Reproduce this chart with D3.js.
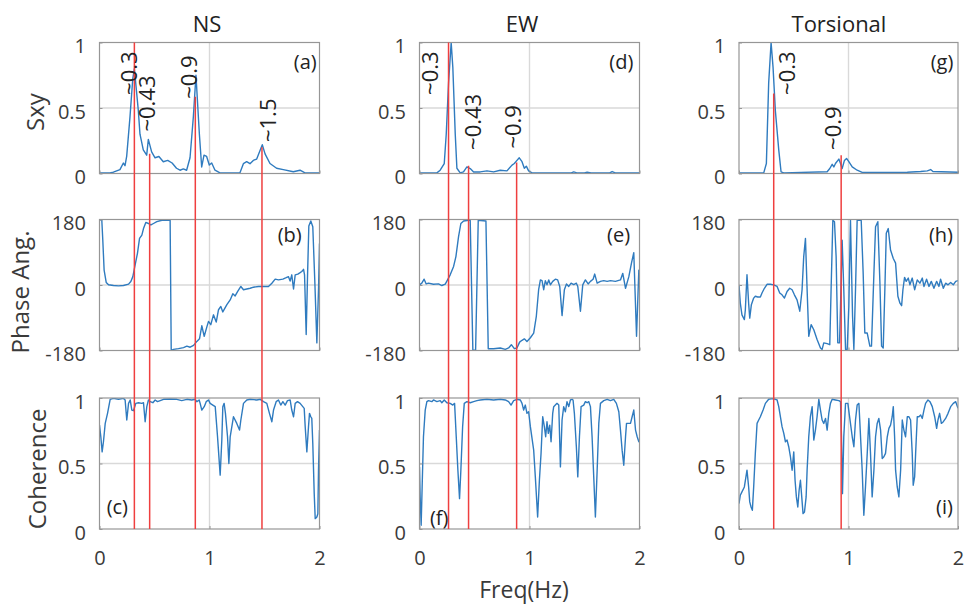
<!DOCTYPE html>
<html>
<head>
<meta charset="utf-8">
<script src="https://d3js.org/d3.v7.min.js"></script>
<style>
  body { margin: 0; background: #fff; }
  svg text { font-family: "Open Sans", "Noto Sans", sans-serif; }
</style>
</head>
<body>
<svg id="chart" width="964" height="608"></svg>
<script>
// ---- data: [freq (Hz), value] ----
const nsSxy = [[0,0.005],[0.095,0.005],[0.126,0.01],[0.186,0.03],[0.217,0.08],[0.232,0.06],[0.247,0.13],[0.277,0.43],[0.302,0.72],[0.317,0.8],[0.353,0.48],[0.368,0.3],[0.398,0.18],[0.429,0.14],[0.444,0.26],[0.474,0.165],[0.505,0.12],[0.54,0.13],[0.58,0.09],[0.62,0.1],[0.66,0.08],[0.7,0.04],[0.732,0.025],[0.762,0.035],[0.792,0.025],[0.823,0.12],[0.853,0.43],[0.877,0.75],[0.908,0.3],[0.929,0.05],[0.95,0.14],[0.974,0.13],[0.998,0.065],[1.02,0.08],[1.05,0.025],[1.095,0.005],[1.277,0.005],[1.308,0.075],[1.338,0.09],[1.368,0.075],[1.398,0.1],[1.429,0.11],[1.48,0.22],[1.505,0.15],[1.55,0.076],[1.61,0.04],[1.671,0.03],[1.762,0.013],[1.823,0.025],[1.868,0.005],[2,0.005]];
const ewSxy = [[0,0.005],[0.158,0.005],[0.188,0.025],[0.225,0.076],[0.243,0.3],[0.264,0.69],[0.288,1.0],[0.303,0.81],[0.325,0.3],[0.34,0.04],[0.37,0.005],[0.4,0.012],[0.431,0.05],[0.461,0.038],[0.492,0.012],[0.552,0.012],[0.613,0.02],[0.674,0.012],[0.734,0.025],[0.795,0.02],[0.841,0.064],[0.862,0.076],[0.886,0.1],[0.907,0.12],[0.932,0.09],[0.953,0.04],[0.971,0.056],[0.992,0.02],[1.023,0.005],[1.38,0.005],[1.402,0.012],[1.43,0.005],[1.5,0.004],[1.524,0.01],[1.56,0.005],[1.73,0.005],[1.751,0.015],[1.78,0.005],[2,0.005]];
const torSxy = [[0,0.005],[0.226,0.005],[0.25,0.076],[0.271,0.69],[0.293,1.0],[0.311,0.81],[0.332,0.48],[0.363,0.18],[0.384,0.013],[0.409,0.005],[0.805,0.013],[0.829,0.038],[0.851,0.07],[0.866,0.05],[0.881,0.076],[0.912,0.11],[0.927,0.076],[0.942,0.038],[0.963,0.1],[0.982,0.115],[1.003,0.09],[1.034,0.05],[1.079,0.025],[1.125,0.008],[1.537,0.01],[1.659,0.015],[1.72,0.02],[1.75,0.03],[1.771,0.015],[2,0.01]];

const nsPhase = [[0,178],[0.006,180],[0.021,178],[0.03,123],[0.042,41],[0.061,7],[0.082,0.5],[0.127,-1.4],[0.173,-2.3],[0.218,-1.4],[0.264,2.3],[0.285,9.6],[0.303,23],[0.324,55],[0.345,87],[0.364,128],[0.385,137],[0.4,155],[0.421,172],[0.445,169],[0.467,165],[0.491,169],[0.521,174],[0.567,178],[0.633,178],[0.642,180],[0.652,-180],[0.673,-177],[0.718,-175],[0.764,-172],[0.794,-168],[0.824,-171],[0.855,-166],[0.885,-155],[0.909,-148],[0.93,-112],[0.952,-141],[0.976,-115],[0.991,-100],[1.012,-109],[1.036,-82],[1.061,-102],[1.082,-68],[1.103,-59],[1.121,-74],[1.158,-54],[1.188,-41],[1.212,-24],[1.233,-30],[1.255,-18],[1.285,-4],[1.309,-13],[1.339,-11],[1.37,-9],[1.4,-6],[1.445,-4],[1.491,-4],[1.536,-4],[1.567,5],[1.597,16],[1.627,14],[1.667,16],[1.697,20],[1.718,23],[1.733,11],[1.748,28],[1.764,-11],[1.779,28],[1.803,30],[1.824,34],[1.839,37],[1.855,43],[1.864,28],[1.879,-136],[1.891,23],[1.903,162],[1.921,176],[1.939,160],[1.958,5],[1.976,-159],[1.991,-13],[2,114]];
const ewPhase = [[0,0.5],[0.021,5],[0.042,16],[0.061,3],[0.082,5],[0.127,2],[0.173,3],[0.203,-1.4],[0.234,2.3],[0.255,14],[0.279,28],[0.31,51],[0.331,78],[0.355,133],[0.376,169],[0.401,176],[0.446,178],[0.461,178],[0.485,-179],[0.51,-179],[0.534,178],[0.604,176],[0.625,-175],[0.674,-175],[0.734,-173],[0.78,-177],[0.81,-173],[0.835,-164],[0.862,-175],[0.886,-173],[0.91,-157],[0.932,-152],[0.953,-148],[0.977,-155],[1.008,-145],[1.038,-132],[1.062,-86],[1.083,-13],[1.099,14],[1.114,12],[1.129,-13],[1.144,12],[1.159,0.5],[1.175,14],[1.19,0.5],[1.211,10],[1.235,16],[1.256,14],[1.275,-4],[1.296,-84],[1.317,-13],[1.336,3],[1.357,-4],[1.378,5],[1.402,1],[1.426,5],[1.439,-4],[1.463,-72],[1.484,0.5],[1.508,14],[1.533,3],[1.554,10],[1.578,16],[1.593,30],[1.615,5],[1.645,10],[1.675,12],[1.706,10],[1.736,12],[1.781,10],[1.827,14],[1.848,32],[1.873,-9],[1.903,23],[1.927,60],[1.948,89],[1.973,-141],[1.994,41],[2,41]];
const torPhase = [[0,0.5],[0.012,-50],[0.027,-82],[0.049,-95],[0.058,-68],[0.073,28],[0.088,-50],[0.098,-91],[0.113,-54],[0.134,-36],[0.149,-31],[0.171,-33],[0.195,-33],[0.21,-22],[0.232,-9],[0.256,2],[0.287,2],[0.317,0.5],[0.348,-4],[0.372,-22],[0.393,-27],[0.415,-36],[0.439,-18],[0.463,-9],[0.485,-13],[0.506,-27],[0.53,-41],[0.555,-72],[0.576,-13],[0.591,78],[0.607,128],[0.622,-13],[0.637,-141],[0.659,-109],[0.683,-123],[0.713,-150],[0.744,-173],[0.759,-177],[0.774,-159],[0.805,-161],[0.829,-164],[0.841,-13],[0.857,178],[0.872,174],[0.887,78],[0.902,-159],[0.918,-159],[0.927,-59],[0.942,123],[0.957,-13],[0.973,-177],[0.988,-177],[1.003,-59],[1.018,178],[1.037,-86],[1.049,-177],[1.064,-13],[1.079,178],[1.116,178],[1.134,32],[1.149,-132],[1.171,-132],[1.195,-168],[1.21,-168],[1.232,32],[1.247,160],[1.268,174],[1.287,5],[1.302,-168],[1.317,-173],[1.332,-13],[1.345,142],[1.363,155],[1.384,96],[1.409,73],[1.43,60],[1.451,-31],[1.47,-50],[1.485,-57],[1.497,-13],[1.512,21],[1.527,10],[1.546,19],[1.561,0.5],[1.582,19],[1.604,-13],[1.628,14],[1.652,5],[1.674,19],[1.689,-4],[1.713,16],[1.735,-4],[1.756,10],[1.78,-9],[1.805,10],[1.826,-4],[1.841,16],[1.866,-9],[1.887,5],[1.909,0.5],[1.933,7],[1.957,0.5],[1.979,10],[2,12]];

const nsCoh = [[0,0.793],[0.012,0.704],[0.024,0.589],[0.036,0.666],[0.052,0.806],[0.073,0.883],[0.097,0.99],[0.127,0.997],[0.173,0.99],[0.218,0.997],[0.233,0.985],[0.248,0.832],[0.264,0.959],[0.279,0.985],[0.294,0.908],[0.309,0.903],[0.33,0.959],[0.355,0.964],[0.385,0.959],[0.4,0.964],[0.415,0.819],[0.43,0.934],[0.445,0.985],[0.461,0.972],[0.485,0.964],[0.506,0.985],[0.527,0.972],[0.552,0.98],[0.582,0.99],[0.642,0.992],[0.703,0.99],[0.748,0.98],[0.794,0.99],[0.839,0.985],[0.87,0.99],[0.885,0.972],[0.906,0.985],[0.915,0.959],[0.93,0.908],[0.952,0.934],[0.97,0.972],[0.991,0.985],[1.006,0.959],[1.03,0.946],[1.052,0.934],[1.073,0.704],[1.097,0.411],[1.112,0.679],[1.121,0.934],[1.133,0.959],[1.145,0.883],[1.164,0.704],[1.176,0.5],[1.188,0.704],[1.218,0.857],[1.248,0.806],[1.273,0.755],[1.285,0.832],[1.309,0.959],[1.339,0.985],[1.37,0.99],[1.43,0.985],[1.461,0.99],[1.491,0.972],[1.521,0.959],[1.545,0.883],[1.567,0.819],[1.582,0.908],[1.606,0.972],[1.627,0.985],[1.648,0.946],[1.667,0.972],[1.688,0.946],[1.709,0.98],[1.733,0.985],[1.748,0.908],[1.764,0.857],[1.779,0.959],[1.8,0.972],[1.824,0.959],[1.848,0.934],[1.861,0.921],[1.87,0.781],[1.885,0.589],[1.9,0.781],[1.909,0.883],[1.921,0.857],[1.93,0.844],[1.939,0.653],[1.952,0.27],[1.961,0.079],[1.976,0.092],[1.985,0.117],[1.991,0.449],[2,0.755]];
const ewCoh = [[0,0.474],[0.006,0.245],[0.015,0.028],[0.024,0.321],[0.036,0.704],[0.052,0.908],[0.067,0.972],[0.082,0.98],[0.112,0.972],[0.127,0.985],[0.158,0.972],[0.188,0.98],[0.203,0.964],[0.225,0.985],[0.249,0.964],[0.279,0.959],[0.303,0.946],[0.319,0.959],[0.334,0.704],[0.349,0.449],[0.364,0.232],[0.376,0.449],[0.392,0.781],[0.407,0.959],[0.431,0.972],[0.461,0.964],[0.492,0.972],[0.522,0.98],[0.552,0.985],[0.613,0.99],[0.674,0.985],[0.734,0.99],[0.78,0.985],[0.81,0.972],[0.832,0.946],[0.856,0.98],[0.886,0.99],[0.917,0.985],[0.932,0.959],[0.947,0.908],[0.962,0.946],[0.977,0.883],[0.992,0.895],[1.008,0.781],[1.038,0.602],[1.053,0.398],[1.074,0.092],[1.09,0.372],[1.105,0.577],[1.12,0.857],[1.135,0.781],[1.147,0.704],[1.159,0.819],[1.171,0.73],[1.184,0.793],[1.196,0.666],[1.211,0.883],[1.22,0.934],[1.25,0.959],[1.266,0.946],[1.281,0.474],[1.296,0.832],[1.311,0.934],[1.326,0.895],[1.341,0.972],[1.357,0.934],[1.372,0.985],[1.387,0.99],[1.396,0.985],[1.408,0.883],[1.426,0.628],[1.439,0.398],[1.454,0.704],[1.469,0.934],[1.493,0.946],[1.508,0.972],[1.524,0.964],[1.539,0.972],[1.554,0.934],[1.569,0.704],[1.584,0.398],[1.599,0.092],[1.615,0.449],[1.63,0.806],[1.645,0.959],[1.675,0.98],[1.706,0.99],[1.736,0.98],[1.766,0.99],[1.79,0.959],[1.812,0.895],[1.827,0.755],[1.842,0.602],[1.857,0.487],[1.873,0.704],[1.882,0.806],[1.903,0.806],[1.918,0.806],[1.933,0.857],[1.948,0.908],[1.964,0.755],[1.979,0.704],[1.994,0.666],[2,0.666]];
const torCoh = [[0,0.194],[0.012,0.258],[0.027,0.283],[0.049,0.321],[0.073,0.449],[0.088,0.321],[0.098,0.207],[0.11,0.168],[0.122,0.143],[0.134,0.321],[0.149,0.577],[0.165,0.806],[0.18,0.832],[0.195,0.857],[0.22,0.908],[0.241,0.959],[0.271,0.99],[0.302,0.995],[0.332,0.99],[0.348,0.985],[0.363,0.934],[0.378,0.857],[0.393,0.781],[0.409,0.73],[0.424,0.666],[0.439,0.679],[0.454,0.628],[0.47,0.551],[0.485,0.449],[0.5,0.589],[0.512,0.372],[0.524,0.245],[0.537,0.168],[0.549,0.296],[0.561,0.372],[0.573,0.245],[0.585,0.117],[0.598,0.13],[0.613,0.245],[0.622,0.449],[0.637,0.704],[0.652,0.857],[0.668,0.934],[0.683,0.679],[0.698,0.755],[0.713,0.857],[0.729,0.99],[0.744,0.908],[0.759,0.832],[0.774,0.806],[0.79,0.844],[0.805,0.755],[0.82,0.883],[0.835,0.959],[0.851,0.99],[0.881,0.985],[0.912,0.98],[0.927,0.972],[0.936,0.704],[0.945,0.27],[0.957,0.704],[0.973,0.959],[0.994,0.959],[1.018,0.806],[1.034,0.704],[1.049,0.628],[1.064,0.832],[1.079,0.946],[1.095,0.959],[1.11,0.704],[1.125,0.449],[1.14,0.105],[1.155,0.321],[1.171,0.577],[1.186,0.844],[1.201,0.577],[1.216,0.245],[1.232,0.449],[1.247,0.704],[1.262,0.806],[1.277,0.844],[1.293,0.755],[1.308,0.538],[1.323,0.551],[1.338,0.577],[1.354,0.704],[1.369,0.768],[1.384,0.793],[1.399,0.857],[1.409,0.934],[1.421,0.704],[1.43,0.449],[1.445,0.321],[1.46,0.245],[1.476,0.449],[1.491,0.832],[1.506,0.755],[1.521,0.704],[1.537,0.857],[1.552,0.857],[1.567,0.832],[1.582,0.577],[1.591,0.334],[1.604,0.398],[1.613,0.577],[1.628,0.857],[1.643,0.857],[1.659,0.87],[1.674,0.844],[1.689,0.908],[1.704,0.959],[1.726,0.985],[1.744,0.972],[1.765,0.934],[1.787,0.857],[1.805,0.768],[1.817,0.832],[1.832,0.883],[1.848,0.806],[1.866,0.819],[1.887,0.844],[1.909,0.883],[1.933,0.934],[1.957,0.959],[1.979,0.972],[2,0.921]];

// red marker lines: [freq, Sxy value where the line starts]
const nsMarks = [[0.317,1],[0.456,0.15],[0.871,0.585],[1.477,0.2]];
const ewMarks = [[0.264,1],[0.446,0.06],[0.883,0.084]];
const torMarks = [[0.317,0.61],[0.933,0.14]];

// peak labels: [text, freq, Sxy value]
const nsPeaks = [['~0.3',0.345,0.60],['~0.43',0.505,0.32],['~0.9',0.882,0.57],['~1.5',1.609,0.24]];
const ewPeaks = [['~0.3',0.168,0.60],['~0.43',0.555,0.18],['~0.9',0.927,0.19]];
const torPeaks = [['~0.3',0.511,0.60],['~0.9',0.936,0.18]];

const titles = ['NS','EW','Torsional'];
const titleFreq = [0.977, 0.932, 0.913];
const sxyTicks = [0, 0.5, 1];
const phaseTicks = [-180, 0, 180];
const cohTicks = [0, 0.5, 1];
const freqTicks = [0, 1, 2];

// panel letters: [text, freq, value, anchor] for rows sxy, phase, coh
const nsLetters = [['(a)',1.975,0.80,'end'],['(b)',1.838,118,'end'],['(c)',0.065,0.112,'start']];
const ewLetters = [['(d)',1.944,0.80,'end'],['(e)',1.914,118,'end'],['(f)',0.095,0.028,'start']];
const torLetters = [['(g)',1.957,0.80,'end'],['(h)',1.954,118,'end'],['(i)',1.954,0.112,'end']];

// ---- layout ----
const svg = d3.select('#chart');
const colLeft = [99.5, 419.5, 739];
const colWidth = [220, 220, 219];
const rowTop = [42.5, 219.5, 398];
const rowH = 131;
const BLUE = '#2f7bbf', RED = '#ef3f3f', BOX = '#969696', GRID = '#d9d9d9', TXT = '#3a3a3a';

const columns = [
  { sxy: nsSxy, phase: nsPhase, coh: nsCoh, marks: nsMarks, peaks: nsPeaks, letters: nsLetters },
  { sxy: ewSxy, phase: ewPhase, coh: ewCoh, marks: ewMarks, peaks: ewPeaks, letters: ewLetters },
  { sxy: torSxy, phase: torPhase, coh: torCoh, marks: torMarks, peaks: torPeaks, letters: torLetters }
];

function fmt(d) { return String(d); }

function drawPanel(id, x, y, data, ticks, gridVal, showX) {
  const g = svg.append('g');
  const x0 = x.range()[0], x1 = x.range()[1];
  const y0 = y.range()[1], y1 = y.range()[0];

  g.append('clipPath').attr('id', id)
    .append('rect').attr('x', x0).attr('y', y0).attr('width', x1 - x0).attr('height', y1 - y0);

  // grid
  g.append('line').attr('x1', x(1)).attr('x2', x(1)).attr('y1', y0).attr('y2', y1)
    .attr('stroke', GRID).attr('stroke-width', 1.4);
  g.append('line').attr('x1', x0).attr('x2', x1).attr('y1', y(gridVal)).attr('y2', y(gridVal))
    .attr('stroke', GRID).attr('stroke-width', 1.4);

  // data
  const line = d3.line().x(d => x(d[0])).y(d => y(d[1]));
  g.append('path').datum(data)
    .attr('clip-path', 'url(#' + id + ')')
    .attr('d', line)
    .attr('fill', 'none')
    .attr('stroke', BLUE)
    .attr('stroke-width', 1.4)
    .attr('stroke-linejoin', 'round');

  // y axis
  const ya = g.append('g').attr('transform', 'translate(' + x0 + ',0)')
    .call(d3.axisLeft(y).tickValues(ticks).tickFormat(fmt).tickSize(-3).tickPadding(13.5));
  ya.select('.domain').remove();
  ya.selectAll('.tick line').attr('stroke', BOX);
  ya.selectAll('text').attr('font-size', 20).attr('fill', TXT).attr('dy', '0.52em')
    .style('font-family', '"Open Sans", sans-serif');

  // x axis
  const xa = g.append('g').attr('transform', 'translate(0,' + y1 + ')')
    .call(d3.axisBottom(x).tickValues(freqTicks).tickFormat(showX ? fmt : () => '').tickSize(-3).tickPadding(22));
  xa.select('.domain').remove();
  xa.selectAll('.tick line').attr('stroke', BOX);
  xa.selectAll('text').attr('font-size', 20).attr('fill', TXT)
    .style('font-family', '"Open Sans", sans-serif');

  // box
  g.append('rect').attr('x', x0).attr('y', y0).attr('width', x1 - x0).attr('height', y1 - y0)
    .attr('fill', 'none').attr('stroke', BOX).attr('stroke-width', 1.2);
}

columns.forEach((c, i) => {
  const x = d3.scaleLinear().domain([0, 2]).range([colLeft[i], colLeft[i] + colWidth[i]]);
  const ySxy = d3.scaleLinear().domain([0, 1]).range([rowTop[0] + rowH, rowTop[0]]);
  const yPh = d3.scaleLinear().domain([-180, 180]).range([rowTop[1] + rowH, rowTop[1]]);
  const yCoh = d3.scaleLinear().domain([0, 1]).range([rowTop[2] + rowH, rowTop[2]]);

  drawPanel('c' + i + 'a', x, ySxy, c.sxy, sxyTicks, 0.5, false);
  drawPanel('c' + i + 'b', x, yPh, c.phase, phaseTicks, 0, false);
  drawPanel('c' + i + 'c', x, yCoh, c.coh, cohTicks, 0.5, true);

  // title
  svg.append('text').attr('x', x(titleFreq[i])).attr('y', 32)
    .attr('text-anchor', 'middle').attr('font-size', 22).attr('fill', '#222')
    .text(titles[i]);

  // red marker lines spanning all three rows
  svg.append('g').selectAll('line').data(c.marks).join('line')
    .attr('x1', d => x(d[0])).attr('x2', d => x(d[0]))
    .attr('y1', d => ySxy(d[1])).attr('y2', yCoh(0))
    .attr('stroke', RED).attr('stroke-width', 1.5);

  // peak labels
  svg.append('g').selectAll('text').data(c.peaks).join('text')
    .attr('transform', d => 'translate(' + x(d[1]) + ',' + ySxy(d[2]) + ') rotate(-90)')
    .attr('font-size', 22).attr('fill', '#222')
    .text(d => d[0]);

  // panel letters
  const ys = [ySxy, yPh, yCoh];
  c.letters.forEach((l, r) => {
    svg.append('text').attr('x', x(l[1])).attr('y', ys[r](l[2]))
      .attr('text-anchor', l[3]).attr('font-size', 20).attr('fill', '#222')
      .text(l[0]);
  });
});

// axis labels
svg.append('text').attr('transform', 'translate(44,112) rotate(-90)')
  .attr('text-anchor', 'middle').attr('font-size', 24).attr('fill', TXT).text('Sxy');
svg.append('text').attr('transform', 'translate(29,292) rotate(-90)')
  .attr('text-anchor', 'middle').attr('font-size', 24).attr('fill', TXT).text('Phase Ang.');
svg.append('text').attr('transform', 'translate(46,469) rotate(-90)')
  .attr('text-anchor', 'middle').attr('font-size', 24).attr('fill', TXT).text('Coherence');
svg.append('text').attr('x', 524).attr('y', 598)
  .attr('text-anchor', 'middle').attr('font-size', 23).attr('fill', TXT).text('Freq(Hz)');
</script>
</body>
</html>
